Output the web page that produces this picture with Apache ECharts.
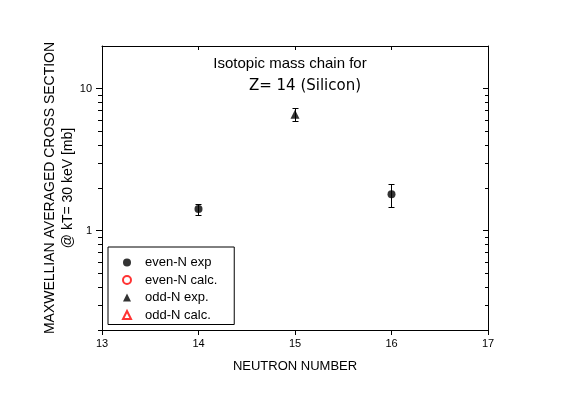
<!DOCTYPE html>
<html>
<head>
<meta charset="utf-8">
<script src="https://cdn.jsdelivr.net/npm/echarts@6/dist/echarts.min.js"></script>
<style>html,body{margin:0;padding:0;background:#fff}#c{width:567px;height:395px}</style>
</head>
<body>
<div id="c"></div>
<script>
// ---- data ----
const evenN = [14, 16];
const evenVal = [1.42, 1.81];
const evenErr = [0.13, 0.33];
const oddN = [15];
const oddVal = [6.6];
const oddErr = [0.66];
const xTicks = [13, 14, 15, 16, 17];
const yMajorTicks = [1, 10];
const yMinorTicks = [0.2, 0.3, 0.4, 0.5, 0.6, 0.7, 0.8, 0.9, 2, 3, 4, 5, 6, 7, 8, 9];
const legendNames = ['even-N exp', 'even-N calc.', 'odd-N exp.', 'odd-N calc.'];
const titleLines = ['Isotopic mass chain for', 'Z= 14 (Silicon)'];

const FONT = '"Liberation Sans", Arial, sans-serif';
const FONT2 = '"DejaVu Sans", sans-serif';
const chart = echarts.init(document.getElementById('c'), null, {renderer: 'canvas'});

const errData = [];
evenN.forEach((x, i) => errData.push([x, evenVal[i] - evenErr[i], evenVal[i] + evenErr[i]]));
oddN.forEach((x, i) => errData.push([x, oddVal[i] - oddErr[i], oddVal[i] + oddErr[i]]));

function crisp(v) { return Math.round(v - 0.5) + 0.5; }

const yBase = {type: 'log', logBase: 10, min: 0.2, max: 20, splitLine: {show: false}};
const lineStyle = {color: '#000', width: 1};

chart.setOption({
  animation: false,
  backgroundColor: '#fff',
  grid: {left: 102, right: 79, top: 46, bottom: 65},
  graphic: [
    {type: 'text', x: 290, y: 64, style: {text: titleLines[0], font: '15px ' + FONT, fill: '#000', textAlign: 'center', textVerticalAlign: 'middle'}},
    {type: 'text', x: 305, y: 86, style: {text: titleLines[1], font: '15px ' + FONT2, fill: '#000', textAlign: 'center', textVerticalAlign: 'middle'}}
  ],
  legend: {
    orient: 'vertical', left: 108, top: 247,
    data: legendNames,
    itemWidth: 8, itemHeight: 8, itemGap: 4.5,
    padding: [9, 17, 3, 14],
    borderColor: '#000', borderWidth: 1, borderRadius: 0,
    selectedMode: false,
    textStyle: {fontFamily: FONT, fontSize: 13, color: '#000', lineHeight: 13, padding: [0, 0, 0, 9]}
  },
  xAxis: [
    {type: 'value', position: 'bottom', min: xTicks[0], max: xTicks[xTicks.length - 1], interval: 1,
     axisLine: {lineStyle}, axisTick: {inside: false, length: 5, lineStyle},
     axisLabel: {fontFamily: FONT, fontSize: 11, color: '#000', margin: 8},
     splitLine: {show: false},
     name: 'NEUTRON NUMBER', nameLocation: 'middle', nameGap: 30, nameMoveOverlap: false,
     nameTextStyle: {fontFamily: FONT, fontSize: 13, color: '#000'}},
    {type: 'value', position: 'top', min: xTicks[0], max: xTicks[xTicks.length - 1], interval: 1,
     axisLine: {lineStyle}, axisTick: {inside: true, length: 4, lineStyle},
     axisLabel: {show: false}, splitLine: {show: false}}
  ],
  yAxis: [
    Object.assign({}, yBase, {position: 'left',
      axisLine: {lineStyle},
      axisTick: {inside: false, length: 6, lineStyle, customValues: yMajorTicks},
      axisLabel: {fontFamily: FONT, fontSize: 11, color: '#000', margin: 10, customValues: yMajorTicks},
      name: 'MAXWELLIAN AVERAGED CROSS SECTION\n@ kT= 30 keV [mb]', nameLocation: 'middle', nameGap: 25,
      nameMoveOverlap: false,
      nameTextStyle: {fontFamily: FONT, fontSize: 14, color: '#000', lineHeight: 18}}),
    Object.assign({}, yBase, {position: 'left',
      axisLine: {show: false},
      axisTick: {inside: false, length: 4, lineStyle, customValues: yMinorTicks},
      axisLabel: {show: false}}),
    Object.assign({}, yBase, {position: 'right',
      axisLine: {lineStyle},
      axisTick: {inside: true, length: 5, lineStyle, customValues: yMajorTicks},
      axisLabel: {show: false}}),
    Object.assign({}, yBase, {position: 'right',
      axisLine: {show: false},
      axisTick: {inside: true, length: 3, lineStyle, customValues: yMinorTicks},
      axisLabel: {show: false}})
  ],
  series: [
    {type: 'custom', name: 'err', xAxisIndex: 0, yAxisIndex: 0, silent: true, z: 2,
     data: errData,
     renderItem(params, api) {
       const x = api.value(0);
       const lo = api.coord([x, api.value(1)]);
       const hi = api.coord([x, api.value(2)]);
       const cx = crisp(lo[0]);
       const yl = Math.round(lo[1]) + 0.5, yh = Math.round(hi[1]) + 0.5;
       const st = {stroke: '#000', lineWidth: 1};
       return {type: 'group', children: [
         {type: 'line', shape: {x1: cx, y1: yl, x2: cx, y2: yh}, style: st},
         {type: 'line', shape: {x1: cx - 3, y1: yl, x2: cx + 3, y2: yl}, style: st},
         {type: 'line', shape: {x1: cx - 3, y1: yh, x2: cx + 3, y2: yh}, style: st}
       ]};
     }},
    {type: 'scatter', name: legendNames[0], symbol: 'circle', symbolSize: 8, z: 3,
     itemStyle: {color: '#000'},
     data: evenN.map((x, i) => [x, evenVal[i]])},
    {type: 'scatter', name: legendNames[1], symbol: 'circle', symbolSize: 7, z: 3,
     itemStyle: {color: 'rgba(0,0,0,0)', borderColor: '#ff0000', borderWidth: 1},
     data: []},
    {type: 'scatter', name: legendNames[2], symbol: 'triangle', symbolSize: 9, z: 3,
     itemStyle: {color: '#000'},
     data: oddN.map((x, i) => [x, oddVal[i]])},
    {type: 'scatter', name: legendNames[3], symbol: 'triangle', symbolSize: 9, z: 3,
     itemStyle: {color: 'rgba(0,0,0,0)', borderColor: '#ff0000', borderWidth: 1},
     data: []}
  ]
});
</script>
</body>
</html>
